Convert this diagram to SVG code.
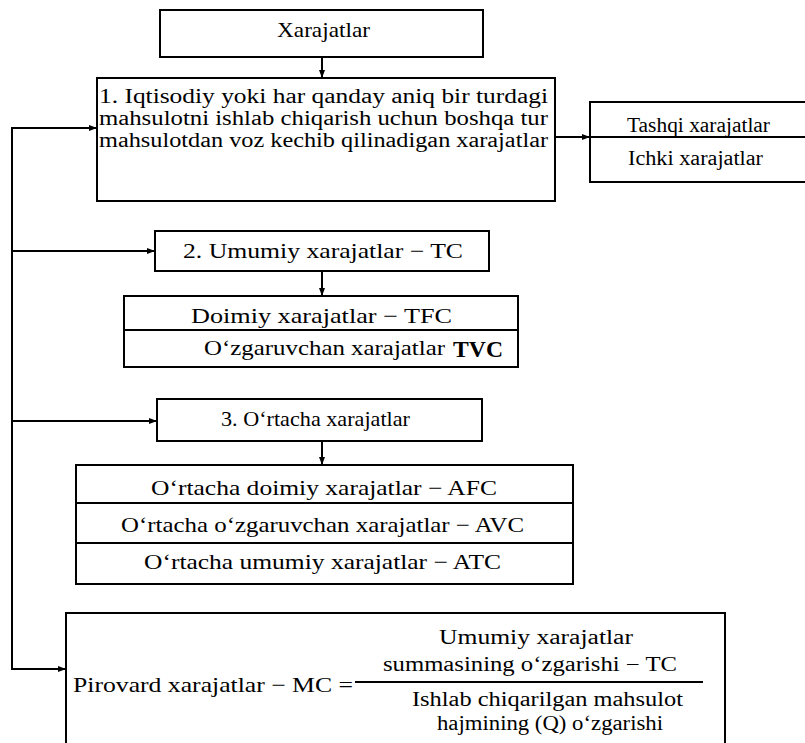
<svg xmlns="http://www.w3.org/2000/svg" width="805" height="743" viewBox="0 0 805 743">
  <style>
    .box { fill: #fff; stroke: #000; stroke-width: 2; }
    .div { stroke: #000; stroke-width: 2; fill: none; }
    .t { font-family: "Liberation Serif", "Times New Roman", serif; font-size: 21px; fill: #000; }
    .s { font-size: 20px; }
    .conn { stroke: #000; stroke-width: 2; fill: none; }
    .tvc { font-family: "Liberation Serif", serif; font-size: 23px; font-weight: bold; fill: #000; }
  </style>
  <defs>
    <marker id="arr" viewBox="0 0 8 8" refX="8" refY="4" markerWidth="8" markerHeight="8" markerUnits="userSpaceOnUse" orient="auto">
      <path d="M0,1 L8,4 L0,7 Z" fill="#000"/>
    </marker>
  </defs>

  <!-- connectors -->
  <g id="connectors">
    <line class="conn" x1="322" y1="57" x2="322" y2="78" marker-end="url(#arr)"/>
    <line class="conn" x1="555" y1="137" x2="590" y2="137" marker-end="url(#arr)"/>
    <line class="conn" x1="322" y1="271" x2="322" y2="296" marker-end="url(#arr)"/>
    <line class="conn" x1="322" y1="441" x2="322" y2="465" marker-end="url(#arr)"/>
    <polyline class="conn" points="12,669 12,128 97,128" marker-end="url(#arr)"/>
    <polyline class="conn" points="12,251 155,251" marker-end="url(#arr)"/>
    <polyline class="conn" points="12,421 157,421" marker-end="url(#arr)"/>
    <polyline class="conn" points="11,669 66,669" marker-end="url(#arr)"/>
  </g>

  <!-- root -->
  <g id="node-xarajatlar">
    <rect class="box" x="160" y="10" width="323" height="47"/>
    <text class="t" x="277" y="37" textLength="93" lengthAdjust="spacingAndGlyphs">Xarajatlar</text>
  </g>

  <!-- 1. opportunity costs -->
  <g id="node-1">
    <rect class="box" x="97" y="78" width="458" height="123" stroke-width="2.5"/>
    <text class="t s" x="99" y="103" textLength="449" lengthAdjust="spacingAndGlyphs">1. Iqtisodiy yoki har qanday aniq bir turdagi</text>
    <text class="t s" x="99" y="125" textLength="449" lengthAdjust="spacingAndGlyphs">mahsulotni ishlab chiqarish uchun boshqa tur</text>
    <text class="t s" x="99" y="147" textLength="449" lengthAdjust="spacingAndGlyphs">mahsulotdan voz kechib qilinadigan xarajatlar</text>
  </g>

  <!-- external / internal -->
  <g id="node-tashqi-ichki">
    <rect class="box" x="590" y="102" width="230" height="80"/>
    <line class="div" x1="590" y1="137" x2="805" y2="137"/>
    <text class="t s" x="627" y="132" textLength="143" lengthAdjust="spacingAndGlyphs">Tashqi xarajatlar</text>
    <text class="t s" x="628" y="165" textLength="135" lengthAdjust="spacingAndGlyphs">Ichki xarajatlar</text>
  </g>

  <!-- 2. total costs -->
  <g id="node-2">
    <rect class="box" x="155" y="231" width="334" height="40"/>
    <text class="t" x="183" y="258" textLength="280" lengthAdjust="spacingAndGlyphs">2. Umumiy xarajatlar − TC</text>
  </g>

  <g id="node-tfc-tvc">
    <rect class="box" x="124" y="296" width="394" height="71"/>
    <line class="div" x1="124" y1="330" x2="518" y2="330"/>
    <text class="t" x="191" y="323" textLength="261" lengthAdjust="spacingAndGlyphs">Doimiy xarajatlar − TFC</text>
    <text class="t" x="204" y="355" textLength="241" lengthAdjust="spacingAndGlyphs">O‘zgaruvchan xarajatlar</text>
    <text class="tvc" x="453" y="357" textLength="50" lengthAdjust="spacingAndGlyphs">TVC</text>
  </g>

  <!-- 3. average costs -->
  <g id="node-3">
    <rect class="box" x="157" y="399" width="325" height="42"/>
    <text class="t" x="221" y="426" textLength="189" lengthAdjust="spacingAndGlyphs">3. O‘rtacha xarajatlar</text>
  </g>

  <g id="node-averages">
    <rect class="box" x="76" y="465" width="497" height="119"/>
    <line class="div" x1="76" y1="503" x2="573" y2="503"/>
    <line class="div" x1="76" y1="543" x2="573" y2="543"/>
    <text class="t" x="151" y="495" textLength="346" lengthAdjust="spacingAndGlyphs">O‘rtacha doimiy xarajatlar − AFC</text>
    <text class="t" x="121" y="532" textLength="403" lengthAdjust="spacingAndGlyphs">O‘rtacha o‘zgaruvchan xarajatlar − AVC</text>
    <text class="t" x="144" y="569" textLength="357" lengthAdjust="spacingAndGlyphs">O‘rtacha umumiy xarajatlar − ATC</text>
  </g>

  <!-- marginal cost -->
  <g id="node-mc">
    <path class="div" d="M66,760 L66,613 L725,613 L725,760"/>
    <text class="t" x="73" y="692" textLength="280" lengthAdjust="spacingAndGlyphs">Pirovard xarajatlar − MC =</text>
    <line class="div" x1="355" y1="682" x2="703" y2="682"/>
    <text class="t s" x="439" y="644" textLength="194" lengthAdjust="spacingAndGlyphs">Umumiy xarajatlar</text>
    <text class="t s" x="383" y="671" textLength="294" lengthAdjust="spacingAndGlyphs">summasining o‘zgarishi − TC</text>
    <text class="t s" x="412" y="706" textLength="271" lengthAdjust="spacingAndGlyphs">Ishlab chiqarilgan mahsulot</text>
    <text class="t s" x="437" y="730" textLength="226" lengthAdjust="spacingAndGlyphs">hajmining (Q) o‘zgarishi</text>
  </g>
</svg>
